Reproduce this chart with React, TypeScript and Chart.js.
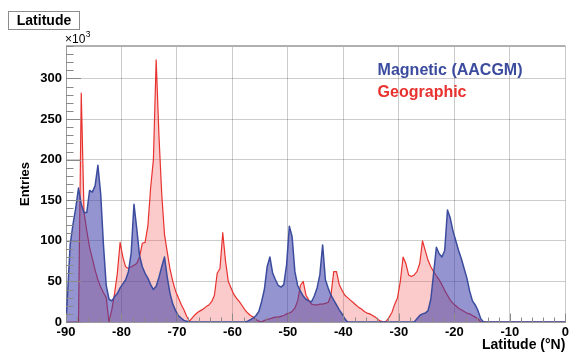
import React, { useEffect, useRef } from 'react';
import { Chart, registerables } from 'chart.js';

Chart.register(...registerables);

// ---- data (counts in units of 10^3 per 0.5° bin, bins start at binStart) ----
const binStart = -90;
const binWidth = 0.5;
const xMin = -90;
const xMax = 0;
const yMin = 0;
const yMax = 340;
const xTicks = [-90, -80, -70, -60, -50, -40, -30, -20, -10, 0];
const yTicks = [0, 50, 100, 150, 200, 250, 300];
const xMinorStep = 2;
const yMinorStep = 10;

const seriesNames = ['Magnetic (AACGM)', 'Geographic'];

// Magnetic (AACGM) latitude, bins -90.0 ... -15.5
const magneticCounts = [
  30, 95, 120, 140, 165, 145, 135, 135, 162, 160,
  168, 193, 158, 95, 45, 28, 26, 31, 35, 42,
  47, 52, 62, 85, 145, 115, 82, 68, 60, 54,
  46, 40, 44, 55, 68, 80, 55, 35, 22, 14,
  8, 5, 2, 1, 0, 0, 0, 0, 0, 0,
  0, 0, 0, 0, 0, 0, 0, 0, 0, 0,
  0, 0, 0, 0, 0, 1, 3, 5, 8, 13,
  25, 40, 68, 80, 60, 52, 45, 43, 46, 70,
  118, 105, 62, 45, 38, 32, 28, 26, 25, 32,
  42, 58, 95, 52, 42, 33, 27, 21, 15, 10,
  4, 0, 0, 0, 0, 0, 0, 0, 0, 0,
  0, 0, 0, 0, 0, 0, 0, 0, 0, 0,
  0, 0, 0, 0, 0, 0, 4, 8, 10, 11,
  14, 28, 60, 92, 84, 80, 88, 138, 128, 112,
  100, 88, 78, 66, 54, 38, 26, 21, 14, 4,
];

// Geographic latitude, bins -90.0 ... -15.5
const geographicCounts = [
  0, 0, 0, 0, 0, 282, 135, 112, 92, 78,
  64, 52, 43, 36, 30, 0, 15, 35, 60, 98,
  80, 68, 66, 68, 70, 72, 80, 97, 98, 118,
  165, 200, 323, 230, 158, 108, 86, 65, 50, 38,
  30, 22, 15, 7, 1, 5, 9, 12, 14, 16,
  19, 21, 25, 33, 60, 66, 110, 75, 50, 42,
  34, 29, 25, 20, 15, 11, 8, 6, 3, 1,
  0, 2, 3, 4, 5, 6, 6, 7, 8, 10,
  11, 13, 17, 26, 45, 50, 33, 27, 22, 21,
  21, 22, 22, 23, 24, 33, 62, 62, 46, 39,
  33, 30, 27, 24, 21, 18, 16, 13, 11, 10,
  8, 6, 3, 1, 0, 1, 6, 12, 22, 30,
  50, 80, 72, 58, 56, 58, 62, 72, 100, 88,
  76, 68, 62, 57, 52, 46, 39, 33, 27, 23,
  20, 17, 15, 13, 11, 10, 8, 6, 4, 0,
];

// ---- styles ----
const FONT = '"Liberation Sans", Arial, Helvetica, sans-serif';
const BLUE_LINE = '#3b4c9e';
const BLUE_FILL = 'rgba(60, 60, 170, 0.55)';
const RED_LINE = '#e8322f';
const RED_FILL = 'rgba(240, 60, 60, 0.27)';
const GRID = 'rgba(0, 0, 0, 0.2)';
const AXIS = '#9a9a9a';

// histogram drawn as a polyline through the bin centres
function toCurve(counts: number[]) {
  const pts: { x: number; y: number }[] = [{ x: binStart, y: 0 }];
  const nBins = Math.round((xMax - binStart) / binWidth);
  for (let i = 0; i < nBins; i++) {
    pts.push({ x: binStart + (i + 0.5) * binWidth, y: i < counts.length ? counts[i] : 0 });
  }
  pts.push({ x: xMax, y: 0 });
  return pts;
}

const decorPlugin = {
  id: 'decor',
  afterDatasetsDraw(chart: any) {
    const { ctx, chartArea: a, scales } = chart;
    const x = scales.x;
    const y = scales.y;
    ctx.save();

    // frame top
    ctx.fillStyle = '#b0b0b0';
    ctx.fillRect(a.left, a.top - 1, a.right - a.left, 2);

    // axis ticks (inside)
    ctx.strokeStyle = '#8a8a8a';
    ctx.lineWidth = 1;
    ctx.beginPath();
    for (let v = yMin; v <= yMax + 1e-9; v += yMinorStep) {
      const py = Math.round(y.getPixelForValue(v)) + 0.5;
      const len = v % 50 === 0 ? 15 : 7.5;
      ctx.moveTo(a.left, py);
      ctx.lineTo(a.left + len, py);
    }
    for (let v = xMin; v <= xMax + 1e-9; v += xMinorStep) {
      const px = Math.round(x.getPixelForValue(v)) + 0.5;
      const len = Math.abs(v % 10) < 1e-9 ? 8.5 : 4.5;
      ctx.moveTo(px, a.bottom);
      ctx.lineTo(px, a.bottom - len);
    }
    ctx.stroke();

    // x10^3 multiplier
    ctx.fillStyle = '#000';
    ctx.textBaseline = 'alphabetic';
    ctx.textAlign = 'left';
    ctx.font = `12px ${FONT}`;
    ctx.fillText('×10', a.left - 1, a.top - 3);
    const w = ctx.measureText('×10').width;
    ctx.font = `8.5px ${FONT}`;
    ctx.fillText('3', a.left - 1 + w + 0.5, a.top - 9);

    // legend texts
    const lx = a.left + 0.624 * (a.right - a.left);
    ctx.font = `bold 16px ${FONT}`;
    ctx.fillStyle = BLUE_LINE;
    ctx.fillText(seriesNames[0], lx, a.top + 0.105 * (a.bottom - a.top));
    ctx.fillStyle = RED_LINE;
    ctx.fillText(seriesNames[1], lx, a.top + 0.183 * (a.bottom - a.top));

    // title box
    ctx.fillStyle = '#ffffff';
    ctx.fillRect(9, 12, 70, 17);
    ctx.strokeStyle = '#8c8c8c';
    ctx.lineWidth = 1;
    ctx.strokeRect(8.5, 11.5, 71, 18);
    ctx.fillStyle = '#000';
    ctx.font = `bold 14px ${FONT}`;
    ctx.textAlign = 'center';
    ctx.textBaseline = 'middle';
    ctx.fillText('Latitude', 44, 21);

    ctx.restore();
  },
};

export default function App() {
  const ref = useRef<HTMLCanvasElement | null>(null);

  useEffect(() => {
    if (!ref.current) return;
    const tickFont = { family: FONT, size: 13, weight: 'bold' as const };
    const chart = new Chart(ref.current, {
      type: 'line',
      data: {
        datasets: [
          {
            label: seriesNames[0],
            data: toCurve(magneticCounts),
            borderColor: BLUE_LINE,
            backgroundColor: BLUE_FILL,
            borderWidth: 1.5,
            borderJoinStyle: 'round',
            pointRadius: 0,
            tension: 0,
            fill: 'origin',
          },
          {
            label: seriesNames[1],
            data: toCurve(geographicCounts),
            borderColor: RED_LINE,
            backgroundColor: RED_FILL,
            borderWidth: 1.2,
            borderJoinStyle: 'round',
            pointRadius: 0,
            tension: 0,
            fill: 'origin',
          },
        ],
      },
      options: {
        animation: false,
        responsive: true,
        maintainAspectRatio: false,
        devicePixelRatio: 1,
        parsing: false,
        layout: { padding: { top: 46, right: 6, left: 0, bottom: 0 } },
        plugins: {
          legend: { display: false },
          tooltip: { enabled: false },
        },
        scales: {
          x: {
            type: 'linear',
            min: xMin,
            max: xMax,
            afterBuildTicks: (s: any) => {
              s.ticks = xTicks.map((v) => ({ value: v }));
            },
            afterFit: (s: any) => {
              s.height = 30;
            },
            grid: { color: GRID, drawTicks: false, lineWidth: 1 },
            border: { display: true, color: AXIS },
            ticks: {
              font: tickFont,
              color: '#000',
              padding: 3,
              maxRotation: 0,
              autoSkip: false,
              callback: (v: any) => String(v),
            },
            title: {
              display: true,
              text: 'Latitude (°N)',
              align: 'end',
              color: '#000',
              font: { family: FONT, size: 14, weight: 'bold', lineHeight: 1 },
              padding: { top: 0, bottom: 0 },
            },
          },
          y: {
            type: 'linear',
            min: yMin,
            max: yMax,
            afterBuildTicks: (s: any) => {
              s.ticks = yTicks.map((v) => ({ value: v }));
            },
            afterFit: (s: any) => {
              s.width = 66;
            },
            grid: { color: GRID, drawTicks: false, lineWidth: 1 },
            border: { display: true, color: AXIS },
            ticks: {
              font: tickFont,
              color: '#000',
              padding: 4,
              autoSkip: false,
              callback: (v: any) => String(v),
            },
            title: {
              display: true,
              text: 'Entries',
              align: 'center',
              color: '#000',
              font: { family: FONT, size: 13, weight: 'bold', lineHeight: 1 },
              padding: { top: 19, bottom: 0 },
            },
          },
        },
      },
      plugins: [decorPlugin],
    } as any);
    return () => chart.destroy();
  }, []);

  return (
    <div style={{ position: 'fixed', left: 0, top: 0, width: 572, height: 352, background: '#fff' }}>
      <canvas ref={ref} />
    </div>
  );
}
